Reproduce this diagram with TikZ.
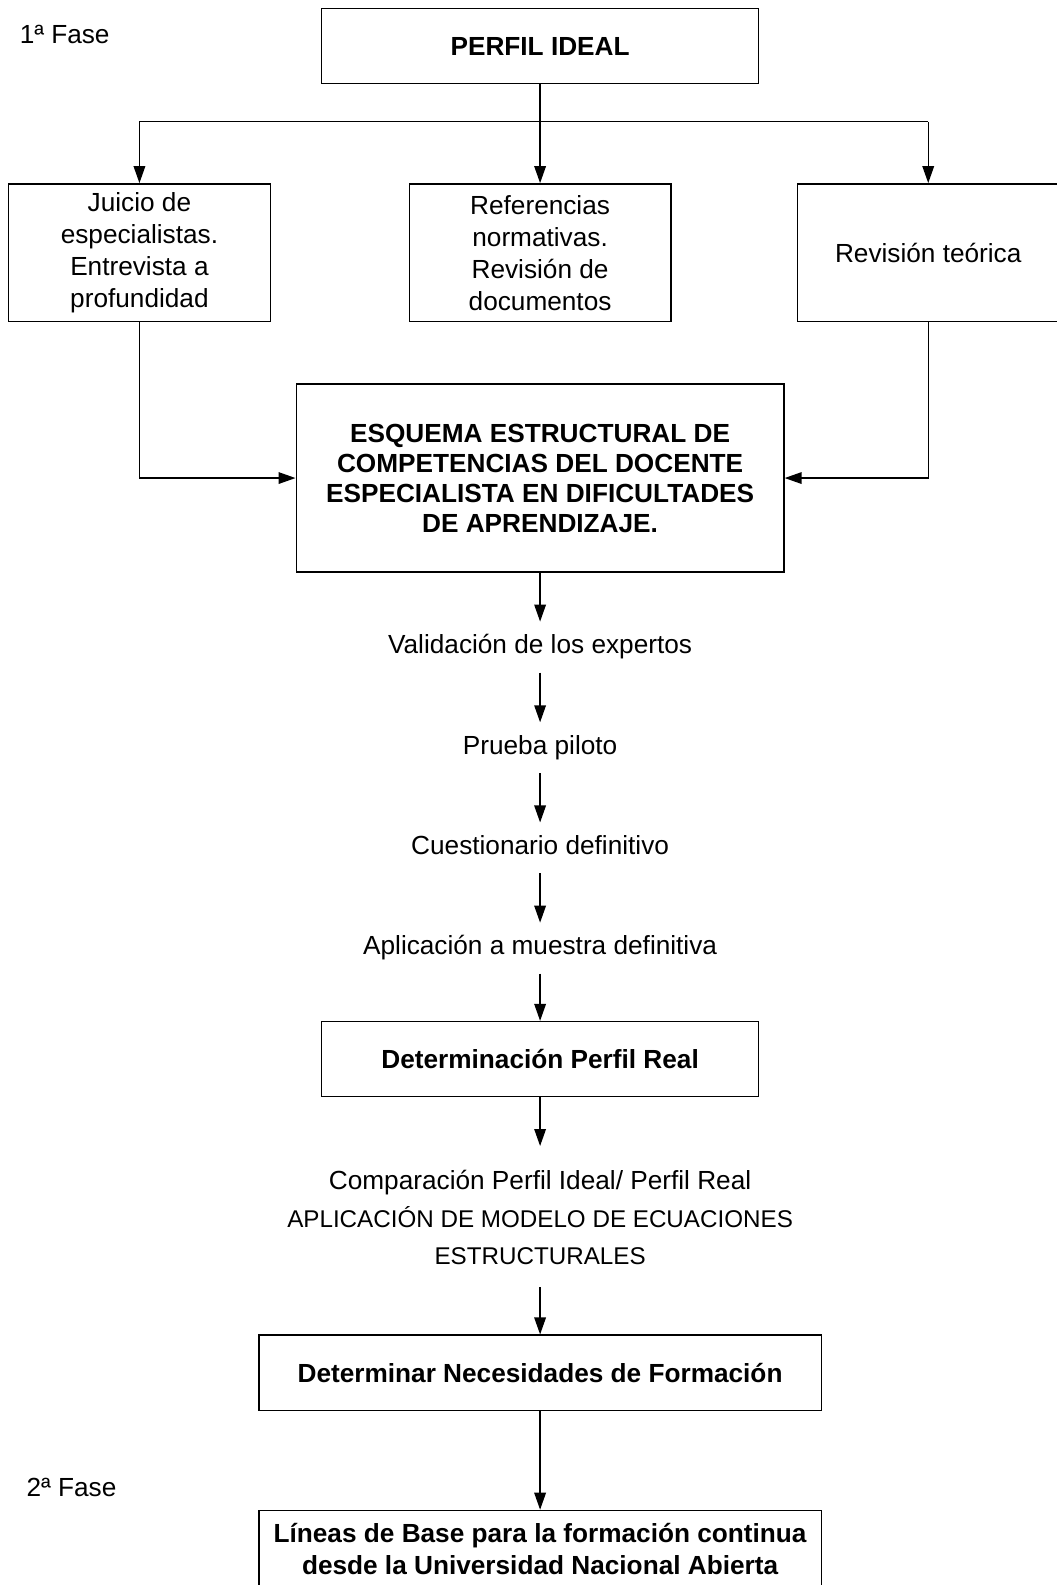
\documentclass[tikz,border=0pt]{standalone}
\usepackage{fontspec}
\setmainfont{Liberation Sans}
\usepackage{xcolor}
\usepackage{tikz}
\usetikzlibrary{arrows.meta}

\tikzset{
	caja/.style={draw=black, line width=0.7pt, align=center, inner sep=2pt, font=\fontsize{13.1pt}{16pt}\selectfont},
	paso/.style={align=center, inner sep=0pt, outer sep=6.5pt, text height=9.5pt, text depth=3pt, font=\fontsize{13.1pt}{16pt}\selectfont},
	fase/.style={anchor=west, inner sep=0pt, font=\fontsize{13.1pt}{16pt}\selectfont},
	flecha/.style={draw=black, line width=0.7pt, -{Triangle[length=8.5pt, width=5.8pt]}},
	linea/.style={draw=black, line width=0.7pt}
}

\begin{document}
\begin{tikzpicture}
	\useasboundingbox (0,0) rectangle (18.57,27.85);
	\node[fase] (fase1) at (0.34,27.24) {1ª Fase};
	\node[caja, minimum width=7.68cm, minimum height=1.32cm, font=\fontsize{13.1pt}{16pt}\selectfont\bfseries] (perfil) at (9.49,27.04) {PERFIL IDEAL};
	\coordinate (ramal) at (9.49,25.71);
	\node[caja, minimum width=4.60cm, minimum height=2.42cm] (juicio) at (2.45,23.41) {Juicio de\\especialistas.\\Entrevista a\\profundidad};
	\node[caja, minimum width=4.60cm, minimum height=2.42cm] (referencias) at (9.49,23.41) {Referencias\\normativas.\\Revisión de\\documentos};
	\node[caja, minimum width=4.60cm, minimum height=2.42cm] (revision) at (16.31,23.41) {Revisión teórica};
	\draw[linea] (juicio.north |- ramal) -- (revision.north |- ramal);
	\draw[flecha] (perfil.south) -- (referencias.north);
	\draw[flecha] (juicio.north |- ramal) -- (juicio.north);
	\draw[flecha] (revision.north |- ramal) -- (revision.north);
	\node[caja, minimum width=8.57cm, minimum height=3.30cm, font=\fontsize{13.1pt}{15pt}\selectfont\bfseries] (esquema) at (9.49,19.45) {ESQUEMA ESTRUCTURAL DE\\COMPETENCIAS DEL DOCENTE\\ESPECIALISTA EN DIFICULTADES\\DE APRENDIZAJE.};
	\draw[flecha] (juicio.south) |- (esquema.west);
	\draw[flecha] (revision.south) |- (esquema.east);
	\node[paso] (validacion) at (9.49,16.48) {Validación de los expertos};
	\node[paso] (prueba) at (9.49,14.71) {Prueba piloto};
	\node[paso] (cuestionario) at (9.49,12.95) {Cuestionario definitivo};
	\node[paso] (aplicacion) at (9.49,11.19) {Aplicación a muestra definitiva};
	\draw[flecha] (esquema.south) -- (validacion);
	\draw[flecha] (validacion) -- (prueba);
	\draw[flecha] (prueba) -- (cuestionario);
	\draw[flecha] (cuestionario) -- (aplicacion);
	\node[caja, minimum width=7.68cm, minimum height=1.32cm, font=\fontsize{13.1pt}{16pt}\selectfont\bfseries] (real) at (9.49,9.24) {Determinación Perfil Real};
	\draw[flecha] (aplicacion) -- (real.north);
	\node[align=center, inner sep=0pt, outer sep=0pt, anchor=south, font=\fontsize{12.1pt}{18.8pt}\selectfont] (comparacion) at (9.49,5.62) {{\fontsize{13.1pt}{16pt}\selectfont Comparación Perfil Ideal/ Perfil Real}\\APLICACIÓN DE MODELO DE ECUACIONES\\ESTRUCTURALES};
	\draw[flecha, shorten >=12.2pt] (real.south) -- (comparacion.north);
	\node[caja, minimum width=9.88cm, minimum height=1.32cm, font=\fontsize{13.1pt}{16pt}\selectfont\bfseries] (necesidades) at (9.49,3.73) {Determinar Necesidades de Formación};
	\draw[flecha, shorten <=11pt] (comparacion.south) -- (necesidades.north);
	\node[fase] (fase2) at (0.46,1.72) {2ª Fase};
	\node[caja, minimum width=9.88cm, minimum height=1.34cm, font=\fontsize{13.1pt}{16pt}\selectfont\bfseries] (lineas) at (9.49,0.64) {Líneas de Base para la formación continua\\desde la Universidad Nacional Abierta};
	\draw[flecha] (necesidades.south) -- (lineas.north);
\end{tikzpicture}
\end{document}
